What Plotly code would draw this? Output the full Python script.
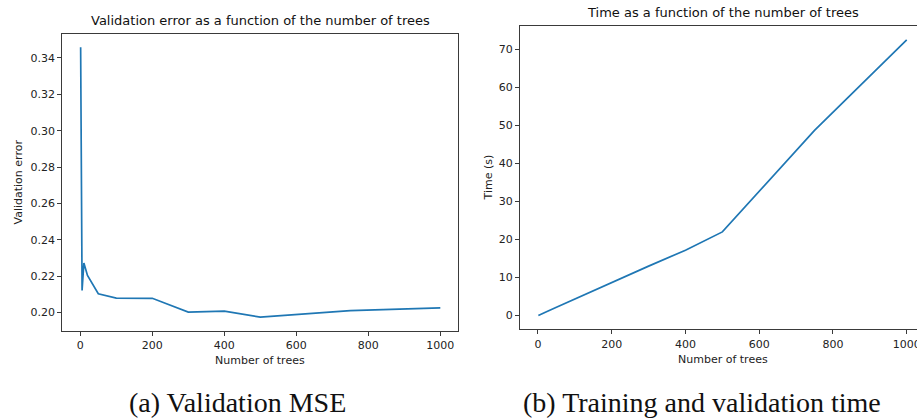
import plotly.graph_objects as go

# Number of trees evaluated
n_trees = [1, 5, 10, 20, 50, 100, 200, 300, 400, 500, 750, 1000]
# Validation MSE for each forest size
val_error = [0.3459, 0.2121, 0.2272, 0.2204, 0.2103, 0.2079, 0.2078,
             0.2002, 0.2007, 0.1974, 0.2010, 0.2025]
# Training + validation time in seconds
time_s = [0.05, 0.25, 0.45, 0.9, 2.2, 4.4, 8.8, 13.0, 17.2, 22.0, 48.7, 72.5]

left_ticks_y = [0.20, 0.22, 0.24, 0.26, 0.28, 0.30, 0.32, 0.34]
left_ticktext_y = [f"{v:.2f}" for v in left_ticks_y]
right_ticks_y = [0, 10, 20, 30, 40, 50, 60, 70]
x_ticks = [0, 200, 400, 600, 800, 1000]

W, H = 917, 420
LINE = "#1f77b4"
AX = "#3a3a3a"
SANS = "DejaVu Sans"
SERIF = "Liberation Serif"


def px(x):
    return x / W


def py(y):
    return 1 - y / H


fig = go.Figure()
fig.add_trace(go.Scatter(x=n_trees, y=val_error, mode="lines",
                         line=dict(color=LINE, width=1.7),
                         xaxis="x", yaxis="y", showlegend=False))
fig.add_trace(go.Scatter(x=n_trees, y=time_s, mode="lines",
                         line=dict(color=LINE, width=1.7),
                         xaxis="x2", yaxis="y2", showlegend=False))

axis_common = dict(showgrid=False, zeroline=False, showline=True,
                   automargin=False,
                   linecolor=AX, linewidth=1, ticks="outside", ticklen=4,
                   tickwidth=1, tickcolor=AX,
                   tickfont=dict(family=SANS, size=11, color="#222"))

fig.update_layout(
    template="none",
    width=W, height=H,
    margin=dict(l=0, r=0, t=0, b=0, autoexpand=False),
    paper_bgcolor="white", plot_bgcolor="white",
    xaxis=dict(domain=[px(62.3), px(458.3)], range=[-49.95, 1049.95],
               tickvals=x_ticks, mirror=True, anchor="y", **axis_common),
    yaxis=dict(domain=[py(331), py(34)], range=[0.1898, 0.3532],
               tickvals=left_ticks_y, ticktext=left_ticktext_y,
               mirror=True, anchor="x", **axis_common),
    # the right panel runs off the page edge, so its last label is cut
    xaxis2=dict(domain=[px(520), 1.0], range=[-48.8, 1027.9],
                tickvals=x_ticks, mirror=True, anchor="y2",
                ticklabeloverflow="allow", **axis_common),
    yaxis2=dict(domain=[py(329.3), py(25.7)], range=[-3.6, 76.2],
                tickvals=right_ticks_y, mirror=False, anchor="x2",
                **axis_common),
)

annotations = [
    # plot titles
    dict(text="Validation error as a function of the number of trees",
         x=px(260.3), y=py(30), yanchor="bottom",
         font=dict(family=SANS, size=13, color="#111")),
    dict(text="Time as a function of the number of trees",
         x=px(722.5), y=py(22), yanchor="bottom",
         font=dict(family=SANS, size=13, color="#111")),
    # axis titles
    dict(text="Number of trees", x=px(260.3), y=py(352), yanchor="top",
         font=dict(family=SANS, size=11, color="#222")),
    dict(text="Number of trees", x=px(722.5), y=py(351), yanchor="top",
         font=dict(family=SANS, size=11, color="#222")),
    dict(text="Validation error", x=px(18), y=py(182.5), textangle=-90,
         font=dict(family=SANS, size=11, color="#222")),
    dict(text="Time (s)", x=px(488), y=py(177.5), textangle=-90,
         font=dict(family=SANS, size=11, color="#222")),
    # captions
    dict(text="(a) Validation MSE", x=px(237), y=py(402),
         font=dict(family=SERIF, size=28, color="#111")),
    dict(text="(b) Training and validation time", x=px(702), y=py(402),
         font=dict(family=SERIF, size=28, color="#111")),
]
for a in annotations:
    a.setdefault("xref", "paper")
    a.setdefault("yref", "paper")
    a.setdefault("showarrow", False)
    a.setdefault("xanchor", "center")
    a.setdefault("yanchor", "middle")
fig.update_layout(annotations=annotations)

# keep the page at the window size; anything past the right edge is cut off
clip_js = ("document.documentElement.style.overflow='hidden';"
           "document.body.style.overflow='hidden';"
           "document.body.style.margin='0';")
fig.write_html("out.html", post_script=clip_js)
